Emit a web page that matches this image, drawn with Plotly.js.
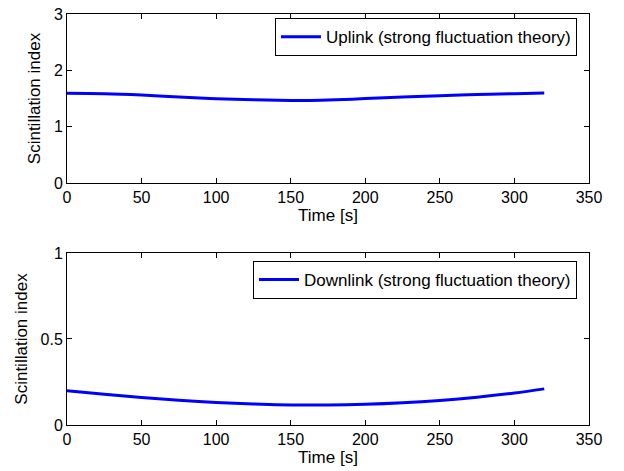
<!DOCTYPE html>
<html>
<head>
<meta charset="utf-8">
<script src="https://cdn.plot.ly/plotly-3.0.1.min.js"></script>
<style>html,body{margin:0;padding:0;background:#fff;}#chart{width:624px;height:471px;}</style>
</head>
<body>
<div id="chart"></div>
<script>
const timeUp = [0, 25, 50, 75, 100, 125, 150, 160, 175, 200, 225, 250, 275, 300, 320];
const uplink = [1.593, 1.585, 1.562, 1.528, 1.497, 1.478, 1.466, 1.464, 1.473, 1.498, 1.527, 1.551, 1.569, 1.585, 1.598];
const timeDown = [0, 25, 50, 75, 100, 125, 150, 175, 200, 225, 250, 275, 300, 320];
const downlink = [0.199, 0.179, 0.160, 0.144, 0.131, 0.122, 0.117, 0.116, 0.120, 0.129, 0.143, 0.162, 0.186, 0.210];
const upName = 'Uplink (strong fluctuation theory)';
const downName = 'Downlink (strong fluctuation theory)';
const xTicks = [0, 50, 100, 150, 200, 250, 300, 350];
const yTicksUp = [0, 1, 2, 3];
const yTicksDown = [0, 0.5, 1];
const yTickTextDown = ['0', '0.5', '1'];

const fam = 'Liberation Sans, Arial, Helvetica, sans-serif';
const tickFont = {family: fam, size: 16, color: '#000'};
const titleFont = {family: fam, size: 17, color: '#000'};
const legendFont = {family: fam, size: 17, color: '#000'};
function ax(extra) {
  return Object.assign({
    showline: true, linecolor: '#000', linewidth: 1, mirror: 'allticks',
    ticks: 'inside', ticklen: 5, tickcolor: '#000', showgrid: false, zeroline: false,
    tickfont: tickFont
  }, extra);
}

const data = [
  {x: timeUp, y: uplink, name: upName, type: 'scatter', mode: 'lines', line: {color: '#0000ff', width: 3, shape: 'spline', smoothing: 1}, xaxis: 'x', yaxis: 'y', legend: 'legend'},
  {x: timeDown, y: downlink, name: downName, type: 'scatter', mode: 'lines', line: {color: '#0000ff', width: 3, shape: 'spline', smoothing: 1}, xaxis: 'x2', yaxis: 'y2', legend: 'legend2'}
];

const layout = {
  width: 624, height: 471,
  margin: {l: 67, r: 35, t: 14, b: 46},
  paper_bgcolor: '#fff', plot_bgcolor: '#fff',
  font: tickFont,
  showlegend: true,
  xaxis: ax({domain: [0, 1], range: [0, 350], tickvals: xTicks, anchor: 'y', title: {text: 'Time [s]', font: titleFont, standoff: 2}}),
  yaxis: ax({domain: [0.5888, 1], range: [0, 3], tickvals: yTicksUp, anchor: 'x', title: {text: 'Scintillation index', font: titleFont, standoff: 8}}),
  xaxis2: ax({domain: [0, 1], range: [0, 350], tickvals: xTicks, anchor: 'y2', title: {text: 'Time [s]', font: titleFont, standoff: 2}}),
  yaxis2: ax({domain: [0, 0.4185], range: [0, 1], tickvals: yTicksDown, ticktext: yTickTextDown, anchor: 'x2', title: {text: 'Scintillation index', font: titleFont, standoff: 8}}),
  legend: {x: 0.977, y: 0.990, xanchor: 'right', yanchor: 'top', bordercolor: '#000', borderwidth: 1, bgcolor: '#fff', font: legendFont, itemwidth: 40, tracegroupgap: 0},
  legend2: {x: 0.977, y: 0.399, xanchor: 'right', yanchor: 'top', bordercolor: '#000', borderwidth: 1, bgcolor: '#fff', font: legendFont, itemwidth: 40, tracegroupgap: 0}
};

Plotly.newPlot('chart', data, layout, {displayModeBar: false, staticPlot: true});
</script>
</body>
</html>
